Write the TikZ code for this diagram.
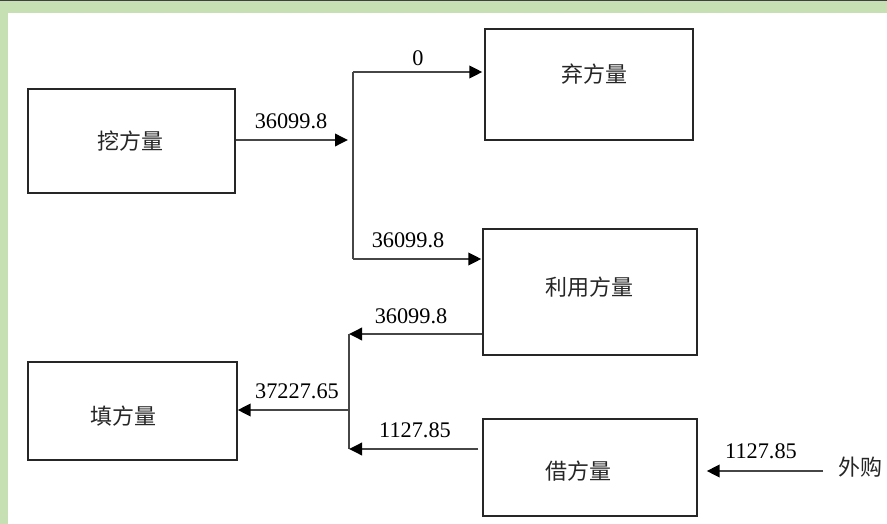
\documentclass[tikz,border=0pt]{standalone}
\usepackage{fontspec}
\setmainfont{Liberation Serif}
\newfontfamily\cjk{Noto Sans CJK SC}
\usetikzlibrary{arrows.meta}
\definecolor{framegreen}{RGB}{198,224,180}
\definecolor{linegray}{RGB}{70,70,70}
\begin{document}
\begin{tikzpicture}[x=1pt,y=-1pt,
  box/.style={draw=black!85,line width=1.4pt,rectangle,inner sep=0pt},
  cn/.style={font=\cjk\fontsize{22}{22}\selectfont,text=black!85,inner sep=0pt},
  num/.style={font=\fontsize{22.3}{22}\selectfont,inner sep=0pt},
  ln/.style={draw=linegray,line width=1.9pt},
  arr/.style={ln,-{Triangle[length=13pt,width=12.5pt,color=black]}}]
% background and frame
\fill[white] (0,0) rectangle (887,524);
\fill[framegreen] (0,0) rectangle (887,13);
\fill[framegreen] (0,0) rectangle (8,524);
\fill[black!75] (0,0) rectangle (887,1.5);
\useasboundingbox (0,0) rectangle (887,524);
% boxes
\node[box,minimum width=207pt,minimum height=104pt] (wa) at (131.5,141) {};
\node[box,minimum width=208pt,minimum height=111pt] (qi) at (589,84.5) {};
\node[box,minimum width=214pt,minimum height=126pt] (li) at (590,292) {};
\node[box,minimum width=209pt,minimum height=98pt] (tian) at (132.5,411) {};
\node[box,minimum width=214pt,minimum height=97pt] (jie) at (590,467.5) {};
% box texts
\node[cn] (wat) at (130,141) {挖方量};
\node[cn] (qit) at (594,74) {弃方量};
\node[cn] (lit) at (589,287) {利用方量};
\node[cn] (tiant) at (123,416) {填方量};
\node[cn] (jiet) at (578,471) {借方量};
\node[cn] (wg) at (860,467) {外购};
% junction coordinates
\coordinate (j1) at (353,140);
\coordinate (jt) at (353,72);
\coordinate (jb) at (353,259);
\coordinate (k1) at (349,334);
\coordinate (km) at (349,410);
\coordinate (k2) at (349,449);
\coordinate (w1) at (823,471);
% connectors
\draw[arr,shorten >=5pt] (wa.east |- j1) -- (j1);
\draw[ln] (jt) -- (jb);
\draw[arr,shorten >=2pt] (jt) -- (jt -| qi.west);
\draw[arr,shorten >=1pt] (jb) -- (jb -| li.west);
\draw[arr] (k1 -| li.west) -- (k1);
\draw[ln] (k1) -- (k2);
\draw[arr] (km) -- (km -| tian.east);
\draw[arr,shorten <=4pt] (k2 -| jie.west) -- (k2);
\draw[arr,shorten >=9pt] (w1) -- (w1 -| jie.east);
% labels
\node[num] (l1) at (291,121) {36099.8};
\node[num] (l2) at (418,58) {0};
\node[num] (l3) at (408,240) {36099.8};
\node[num] (l4) at (411,316) {36099.8};
\node[num] (l5) at (297,391) {37227.65};
\node[num] (l6) at (415,430) {1127.85};
\node[num] (l7) at (761,451) {1127.85};
\end{tikzpicture}
\end{document}
